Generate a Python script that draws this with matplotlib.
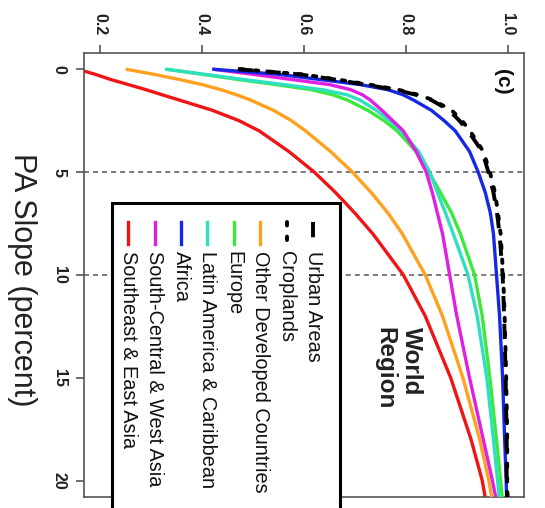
import matplotlib
matplotlib.use('Agg')
import matplotlib.pyplot as plt
from matplotlib.patches import Rectangle
from matplotlib.lines import Line2D

plt.rcParams['font.family'] = ['Liberation Sans', 'DejaVu Sans']
plt.rcParams['lines.scale_dashes'] = False

# ---------------- data ----------------
slope = [0, 0.25, 0.5, 0.75, 1, 1.25, 1.5, 2, 2.5, 3, 4, 5, 6, 7, 8, 10, 12, 15, 18, 20, 21]

urban_areas = [0.47, 0.59, 0.66, 0.72, 0.78, 0.82, 0.85, 0.885, 0.905, 0.922, 0.95, 0.962, 0.972,
               0.979, 0.984, 0.99, 0.993, 0.996, 0.998, 0.998, 0.999]
croplands = [0.475, 0.595, 0.665, 0.728, 0.785, 0.825, 0.853, 0.89, 0.91, 0.926, 0.952, 0.965,
             0.975, 0.981, 0.986, 0.991, 0.994, 0.997, 0.999, 0.999, 1.0]
other_developed = [0.25, 0.305, 0.355, 0.40, 0.437, 0.468, 0.495, 0.54, 0.575, 0.603, 0.652,
                   0.695, 0.732, 0.765, 0.793, 0.838, 0.872, 0.912, 0.945, 0.963, 0.97]
europe = [0.33, 0.40, 0.47, 0.545, 0.615, 0.657, 0.685, 0.725, 0.757, 0.783, 0.82, 0.845, 0.868,
          0.89, 0.907, 0.935, 0.95, 0.965, 0.978, 0.986, 0.99]
latin_america = [0.327, 0.405, 0.48, 0.56, 0.637, 0.685, 0.71, 0.742, 0.768, 0.79, 0.825, 0.847,
                 0.862, 0.878, 0.893, 0.922, 0.94, 0.959, 0.972, 0.98, 0.984]
africa = [0.42, 0.55, 0.63, 0.71, 0.765, 0.795, 0.815, 0.85, 0.875, 0.897, 0.925, 0.942, 0.956,
          0.966, 0.972, 0.978, 0.984, 0.99, 0.994, 0.997, 0.998]
south_central_west_asia = [0.42, 0.50, 0.575, 0.65, 0.692, 0.715, 0.73, 0.753, 0.774, 0.795, 0.82,
                           0.84, 0.852, 0.862, 0.872, 0.886, 0.90, 0.925, 0.952, 0.97, 0.978]
southeast_east_asia = [0.155, 0.19, 0.22, 0.255, 0.29, 0.322, 0.355, 0.42, 0.472, 0.512, 0.57,
                       0.62, 0.662, 0.70, 0.735, 0.795, 0.838, 0.888, 0.928, 0.95, 0.957]

labels = ["Urban Areas", "Croplands", "Other Developed Countries", "Europe",
          "Latin America & Caribbean", "Africa", "South-Central & West Asia",
          "Southeast & East Asia"]
series = [urban_areas, croplands, other_developed, europe, latin_america, africa,
          south_central_west_asia, southeast_east_asia]
colors = ["black", "black", "#FFA01E", "#3CE83C", "#2EE0C0", "#1428E6", "#E020E0", "#F01414"]
styles = [(0, (11, 9)), (0, (2.5, 8)), '-', '-', '-', '-', '-', '-']
widths = [2.8, 2.8, 2.4, 2.4, 2.4, 2.4, 2.4, 2.4]
draw_order = [7, 2, 3, 4, 6, 5, 1, 0]

value_ticks = [0.2, 0.4, 0.6, 0.8, 1.0]
value_ticklabels = ["0.2", "0.4", "0.6", "0.8", "1.0"]
slope_ticks = [0, 5, 10, 15, 20]
ref_slopes = [5, 10]

# ---------------- figure ----------------
W, H = 545, 508
fig = plt.figure(figsize=(W / 100, H / 100), dpi=100)

def fx(px):
    return px / W

def fy(py):
    return 1 - py / H

ax_left, ax_right, ax_top, ax_bottom = 84, 524, 52.7, 497
ax = fig.add_axes([fx(ax_left), fy(ax_bottom), fx(ax_right) - fx(ax_left),
                   fy(ax_top) - fy(ax_bottom)])

for yv in ref_slopes:
    ax.axhline(yv, color='#555555', lw=1.1, ls=(0, (3.6, 2.9)), zorder=1)

for i in draw_order:
    cap = 'round' if i == 1 else 'butt'
    ax.plot(series[i], slope, color=colors[i], lw=widths[i], ls=styles[i],
            dash_capstyle=cap, solid_capstyle='butt', solid_joinstyle='round',
            zorder=2 + draw_order.index(i))

ax.set_xlim(0.168, 1.032)
ax.set_ylim(20.8, -0.8)
ax.xaxis.tick_top()
ax.set_xticks(value_ticks)
ax.set_xticklabels(value_ticklabels)
ax.set_yticks(slope_ticks)
ax.set_yticklabels([str(s) for s in slope_ticks])
ax.tick_params(axis='both', direction='out', length=5.5, width=1.2, color='#555555',
               labelsize=11.5, pad=7)
for lab in ax.get_xticklabels():
    lab.set_rotation(-90)
    lab.set_fontweight('bold')
    lab.set_color('#222222')
for lab in ax.get_yticklabels():
    lab.set_rotation(-90)
    lab.set_fontweight('bold')
    lab.set_va('center')
    lab.set_color('#222222')
for sp in ax.spines.values():
    sp.set_color('#555555')
    sp.set_linewidth(1.2)

# axis label (rotated chart)
fig.text(fx(22), fy(280), "PA Slope (percent)", rotation=-90, ha='center', va='center',
         fontsize=22, color='#222222')

# panel tag
fig.text(fx(503), fy(82), "(c)", rotation=-90, ha='center', va='center',
         fontsize=15, fontweight='bold', color='#111111')

# legend title (two rotated lines, left aligned at the top)
fig.text(fx(405), fy(327), "World", rotation=-90, rotation_mode='anchor',
         ha='left', va='baseline', fontsize=17.5, fontweight='bold', color='#222222')
fig.text(fx(378), fy(327), "Region", rotation=-90, rotation_mode='anchor',
         ha='left', va='baseline', fontsize=17.5, fontweight='bold', color='#222222')

# legend box (manual, rotated)
lg_left, lg_right, lg_top, lg_bottom = 112, 340, 203, 530
fig.add_artist(Rectangle((fx(lg_left), fy(lg_bottom)), fx(lg_right) - fx(lg_left),
                         fy(lg_top) - fy(lg_bottom), transform=fig.transFigure,
                         facecolor='white', edgecolor='black', lw=2.2, zorder=20))
col_x0, col_dx = 313, -26.4
for i, lab in enumerate(labels):
    cx = col_x0 + i * col_dx
    fig.add_artist(Line2D([fx(cx), fx(cx)], [fy(222), fy(244)], transform=fig.transFigure,
                          color=colors[i], lw=widths[i], ls=styles[i],
                          dash_capstyle='round' if i == 1 else 'butt', zorder=21))
    fig.text(fx(cx), fy(251), lab, rotation=-90, ha='center', va='top', fontsize=14.3,
             color='#111111', zorder=22)

fig.savefig("out.png", dpi=100)
